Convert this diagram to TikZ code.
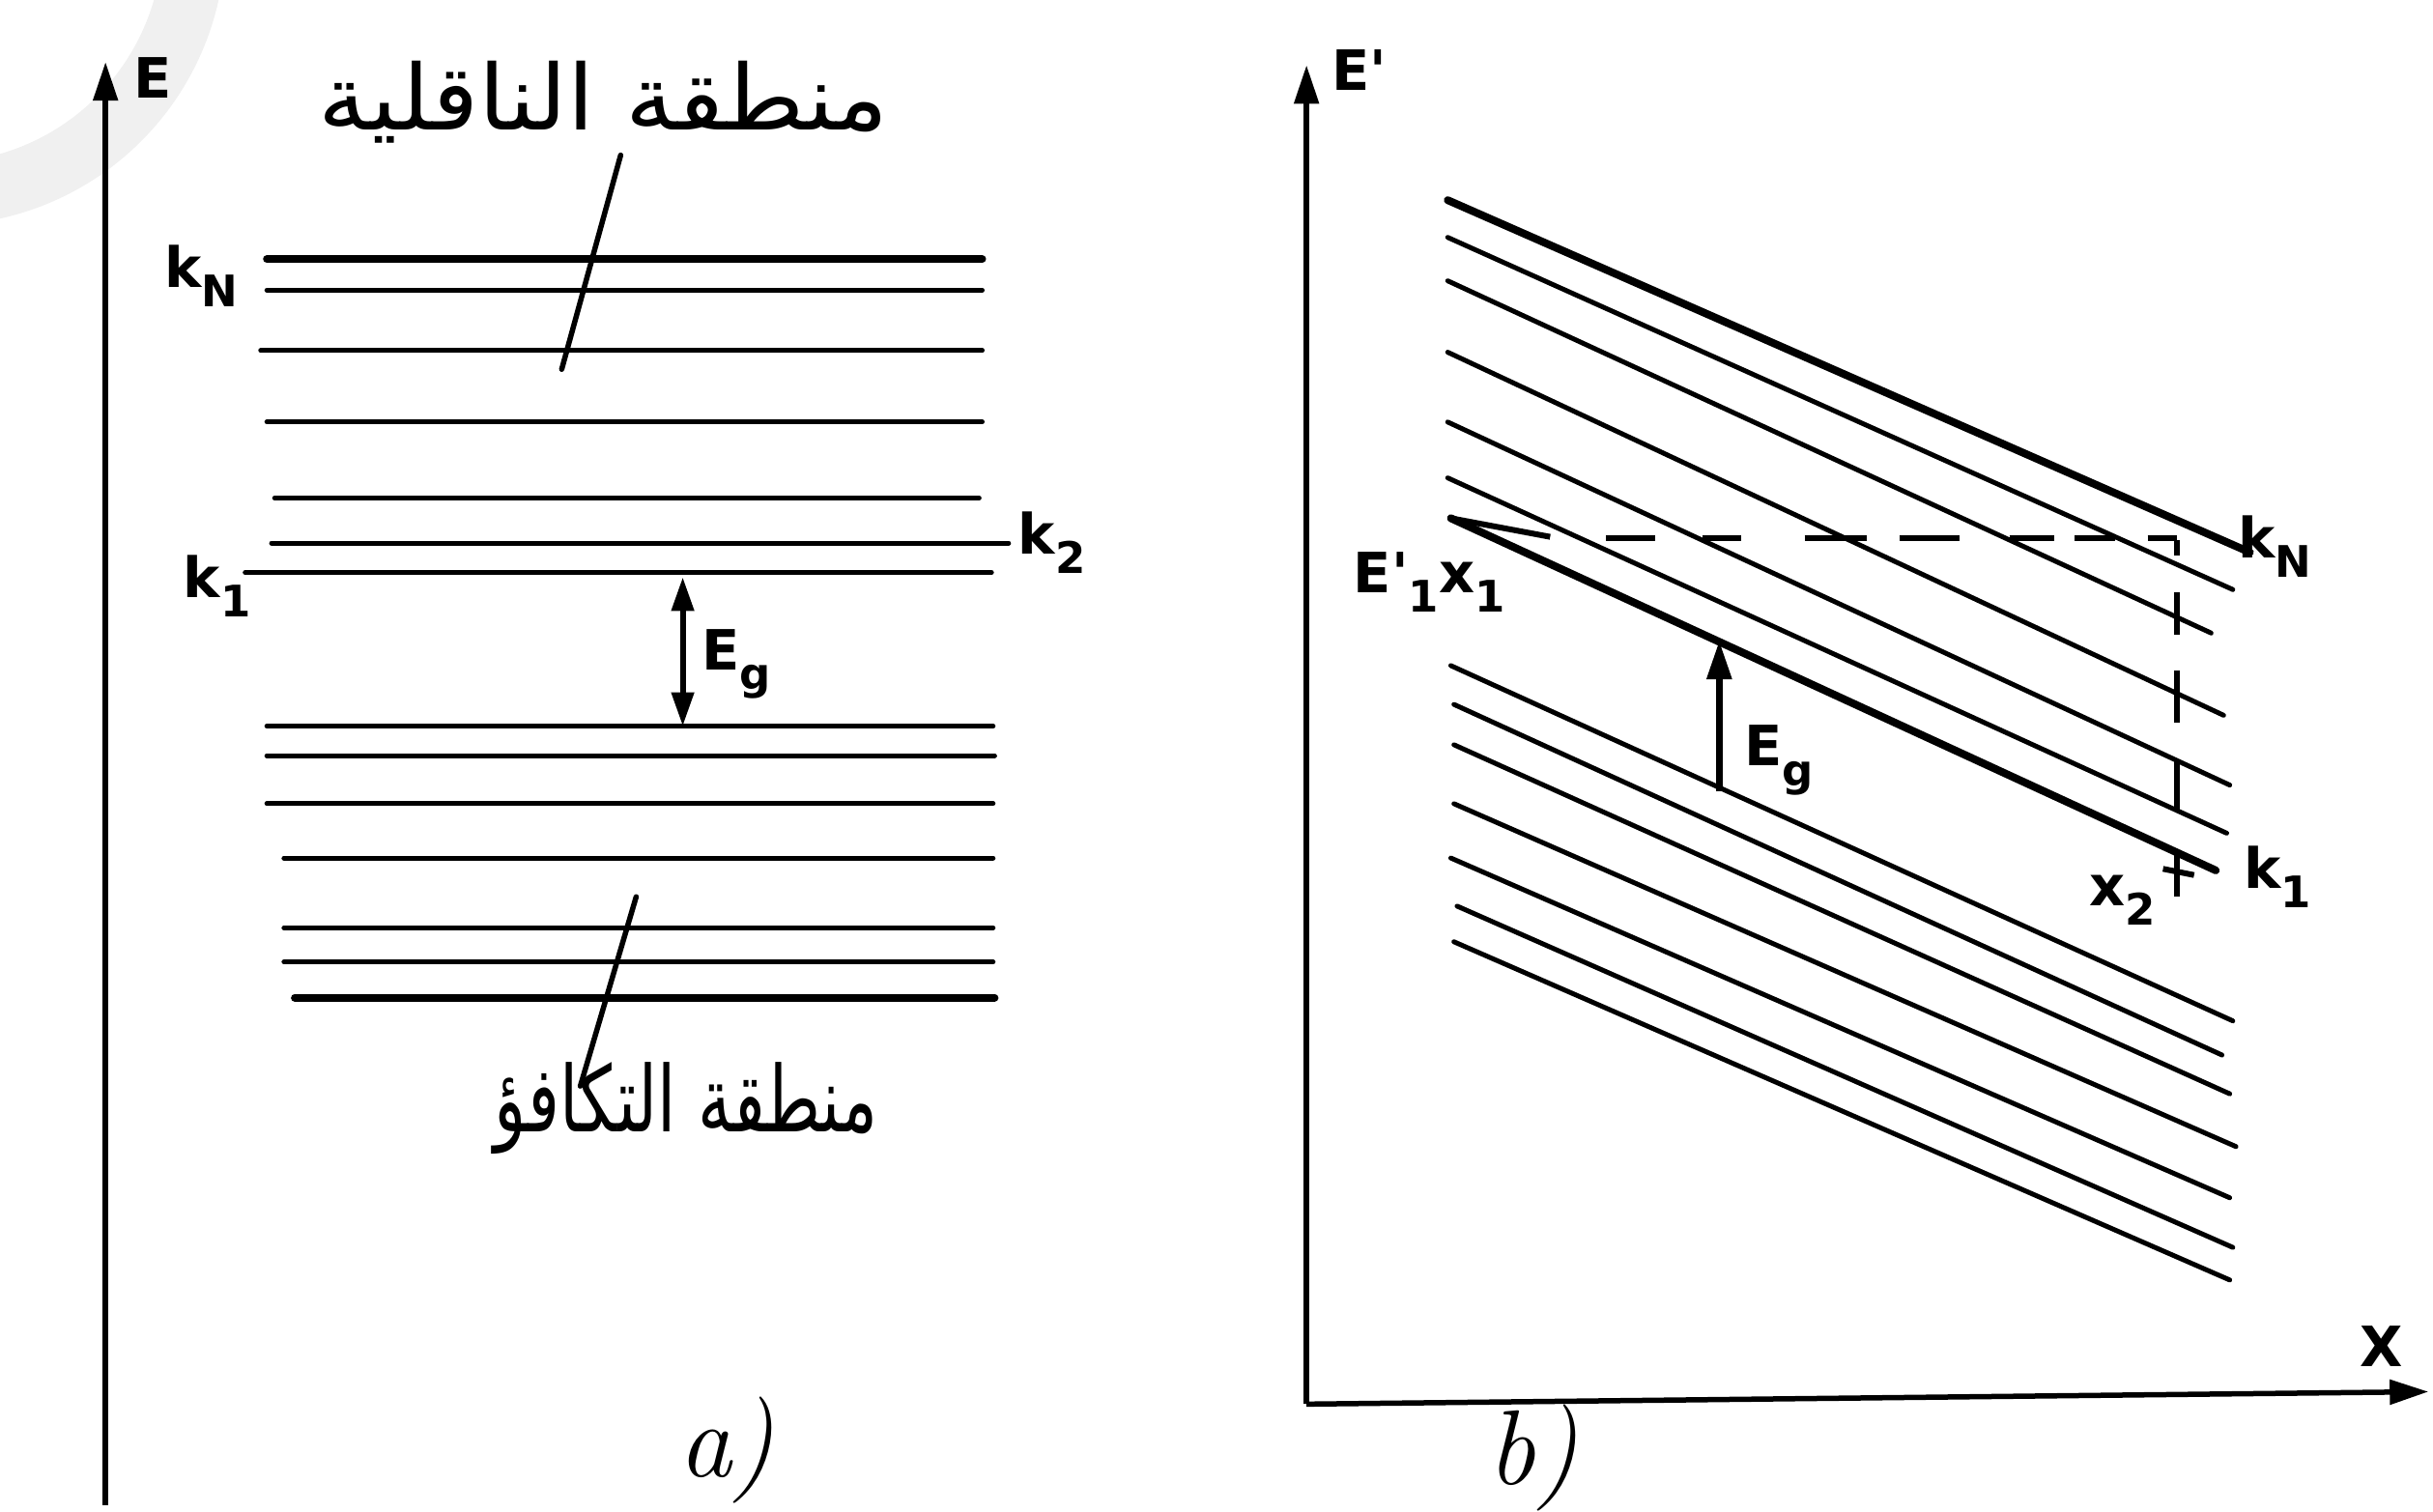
\documentclass[tikz,border=0pt]{standalone}
\usepackage{fontspec}
\newfontfamily\arabicfont[Script=Arabic]{DejaVu Sans}
\newfontfamily\lblfont{DejaVu Sans}
\TeXXeTstate=1
\usetikzlibrary{arrows.meta}
\newcommand{\sbs}[1]{\raisebox{-0.35em}{\fontsize{18}{20}\selectfont #1}}
\begin{document}
\begin{tikzpicture}[x=0.6424pt,y=-0.6424pt,
  thinband/.style={line width=2.0pt, line cap=round},
  thickband/.style={line width=3.2pt, line cap=round},
  axis/.style={line width=2.2pt, -{Triangle[length=16pt,width=10pt]}},
  tickline/.style={line width=2.2pt, line cap=round},
  dsh/.style={line width=2.4pt},
  lbl/.style={inner sep=0pt, font=\lblfont\bfseries\fontsize{23}{27}\selectfont},
  panelcap/.style={inner sep=0pt, font=\fontsize{44}{50}\selectfont\itshape},
  gap/.style={line width=2.4pt, {Triangle[length=14pt,width=9pt]}-{Triangle[length=14pt,width=9pt]}},
  gapone/.style={line width=2.6pt, -{Triangle[length=16pt,width=10pt]}}]
\useasboundingbox (0,0) rectangle (1568,974);
% watermark
\draw[gray!12, line width=26pt] (125,-40) arc[start angle=0, end angle=90, radius=165];
% ---------- panel a ----------
\coordinate (aB) at (68,970);
\coordinate (aT) at (68,40);
\draw[axis] (aB) -- (aT);
\node[lbl, anchor=west] (aE) at (86,50) {E};
\foreach \y/\a/\b/\s in {167/172/633/thickband, 187/172/633/thinband, 226/168/633/thinband,
  272/172/633/thinband, 321/177/631/thinband, 350/175/650/thinband, 369/158/639/thinband,
  468/172/640/thinband, 487/172/641/thinband, 518/172/640/thinband, 553/183/640/thinband,
  598/183/640/thinband, 620/183/640/thinband, 643/190/641/thickband}
  \draw[\s] (\a,\y) -- (\b,\y);
\coordinate (t1a) at (362,238); \coordinate (t1b) at (400,100);
\draw[tickline] (t1a) -- (t1b);
\coordinate (t2a) at (410,578); \coordinate (t2b) at (374,700);
\draw[tickline] (t2a) -- (t2b);
\node[inner sep=0pt] (cond) at (389,66) {\resizebox*{236pt}{34pt}{\arabicfont\beginR منطقة الناقلية\endR}};
\node[inner sep=0pt] (val) at (442,714) {\resizebox*{159pt}{38pt}{\arabicfont\beginR منطقة التكافؤ\endR}};
\coordinate (ga) at (440,372); \coordinate (gb) at (440,468);
\draw[gap] (ga) -- (gb);
\node[lbl, anchor=west] (gl) at (452,428) {E\sbs{g}};
\node[lbl, anchor=west] (kN) at (106,178) {k\sbs{N}};
\node[lbl, anchor=west] (k2) at (656,350) {k\sbs{2}};
\node[lbl, anchor=west] (k1) at (118,378) {k\sbs{1}};
\node[panelcap] (la) at (468,935) {a)};
% ---------- panel b ----------
\coordinate (bO) at (842,905);
\coordinate (bT) at (842,42);
\coordinate (bR) at (1565,897);
\draw[axis] (bO) -- (bT);
\draw[axis] (bO) -- (bR);
\node[lbl, anchor=west] (bE) at (858,45) {E'};
\node[lbl] (bX) at (1535,868) {X};
% conduction lines
\foreach \xa/\ya/\xb/\yb in {933/153/1439/380, 933/181/1425/408,
  933/227/1433/461, 933/272/1437/506, 933/308/1435/537}
  \draw[thinband] (\xa,\ya) -- (\xb,\yb);
\draw[thickband] (933,129) -- (1450,356);
\coordinate (E1s) at (935,334); \coordinate (E1e) at (1428,561);
\draw[thickband] (E1s) -- (E1e);
% valence lines
\foreach \xa/\ya/\xb/\yb in {935/429/1439/658, 937/454/1432/680, 937/480/1437/705,
  937/518/1441/739, 935/553/1437/772, 939/584/1439/804, 937/607/1437/825}
  \draw[thinband] (\xa,\ya) -- (\xb,\yb);
% dashed construction lines
\draw[dsh] (E1s) -- (999,346);
\foreach \a/\b in {1035/1067, 1097/1122, 1163/1203, 1224/1263, 1295/1324, 1337/1363, 1384/1403}
  \draw[dsh] (\a,347) -- (\b,347);
\foreach \a/\b in {348/358, 382/409, 432/466, 490/523, 549/578}
  \draw[dsh] (1403,\a) -- (1403,\b);
\draw[dsh] (1394,560) -- (1414,564);
\coordinate (ea) at (1108,413); \coordinate (eb) at (1108,510);
\draw[gapone] (eb) -- (ea);
\node[lbl, anchor=west] (el) at (1124,490) {E\sbs{g}};
\node[lbl, anchor=west] (e1) at (872,375) {E'\sbs{1}x\sbs{1}};
\node[lbl, anchor=west] (rkN) at (1442,352) {k\sbs{N}};
\node[lbl, anchor=west] (rx2) at (1346,580) {x\sbs{2}};
\node[lbl, anchor=west] (rk1) at (1446,565) {k\sbs{1}};
\node[panelcap] (lb) at (988,940) {b)};
\end{tikzpicture}
\end{document}
